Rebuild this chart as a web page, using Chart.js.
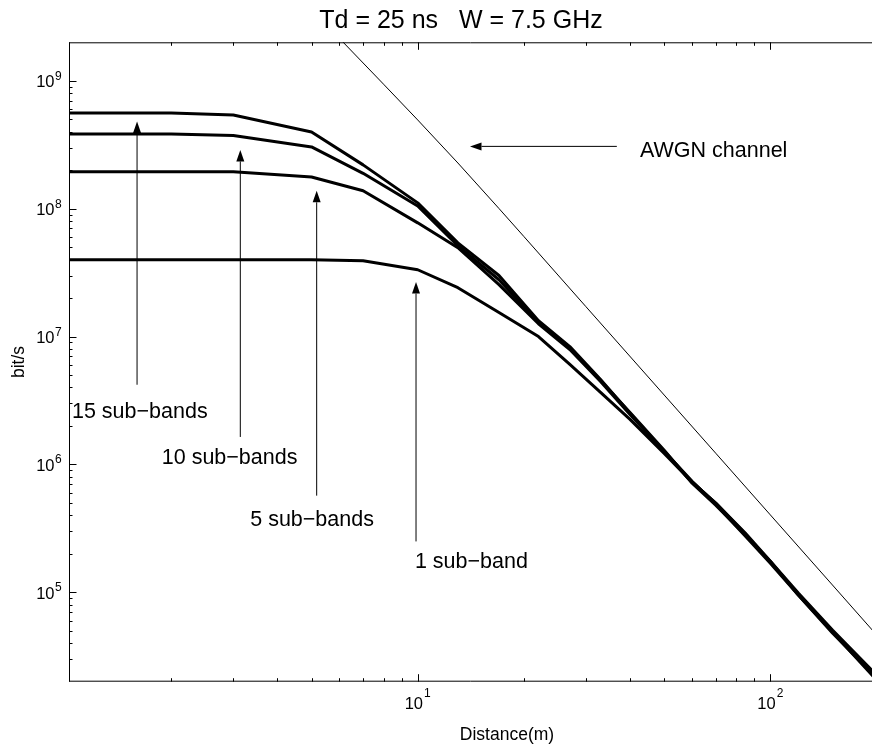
<!DOCTYPE html>
<html>
<head>
<meta charset="utf-8">
<script src="https://cdn.jsdelivr.net/npm/chart.js@4.4.1/dist/chart.umd.min.js"></script>
<style>
  html, body { margin: 0; padding: 0; background: #fff; overflow: hidden; }
  canvas { display: block; }
</style>
</head>
<body>
<canvas id="c" width="872" height="745"></canvas>
<script>
// ---- data ----
const distances = [1, 2, 3, 5, 7, 10, 13, 17, 22, 27, 33, 40, 50, 60, 70, 85, 100, 120, 150, 200];
const rate15 = [5.60e8, 5.60e8, 5.40e8, 3.98e8, 2.20e8, 1.11e8, 5.40e7, 3.00e7, 1.33e7, 8.35e6, 4.62e6, 2.51e6, 1.27e6, 7.26e5, 4.98e5, 2.85e5, 1.72e5, 9.70e4, 4.99e4, 2.18e4];
const rate10 = [3.84e8, 3.84e8, 3.74e8, 3.04e8, 1.89e8, 1.05e8, 5.13e7, 2.78e7, 1.29e7, 8.06e6, 4.54e6, 2.55e6, 1.29e6, 7.13e5, 4.80e5, 2.80e5, 1.75e5, 9.52e4, 4.81e4, 2.14e4];
const rate5  = [1.94e8, 1.94e8, 1.94e8, 1.77e8, 1.38e8, 7.75e7, 4.95e7, 2.55e7, 1.26e7, 7.92e6, 4.46e6, 2.46e6, 1.27e6, 7.39e5, 4.89e5, 2.75e5, 1.69e5, 9.52e4, 4.90e4, 2.06e4];
const rate1  = [3.99e7, 3.99e7, 3.99e7, 3.99e7, 3.92e7, 3.33e7, 2.41e7, 1.54e7, 1.00e7, 6.05e6, 3.66e6, 2.25e6, 1.22e6, 7.26e5, 4.98e5, 2.90e5, 1.75e5, 9.87e4, 5.08e4, 2.26e4];
const awgnDist = [6, 8, 10, 13, 17, 20, 30, 50, 70, 100, 150, 200];
const awgnRate = [2.145e9, 9.41e8, 4.94e8, 2.276e8, 1.003e8, 6.06e7, 1.712e7, 3.49e6, 1.224e6, 4.03e5, 1.141e5, 4.65e4];

const xMin = 1.026, xMax = 194.2;
const yMin = 2e4, yMax = 2e9;
const xTickValues = [2,3,4,5,6,7,8,9,10,20,30,40,50,60,70,80,90,100];
const xTickLabels = [{v:10, base:'10', exp:'1'}, {v:100, base:'10', exp:'2'}];
const yTickValues = [];
for (let e = 4; e <= 9; e++) for (let m = 1; m <= 9; m++) { const v = m * Math.pow(10, e); if (v > yMin && v < yMax) yTickValues.push(v); }
const yTickLabels = [5,6,7,8,9].map(e => ({v: Math.pow(10, e), base: '10', exp: String(e)}));

const titleText = 'Td = 25 ns   W = 7.5 GHz';
const xLabel = 'Distance(m)';
const yLabel = 'bit/s';

// annotation arrows (data coordinates): vertical ones {x, from, to}, horizontal {y, from, to}
const vArrows = [
  {x: 1.60, from: 4.2e6, to: 4.8e8},
  {x: 3.14, from: 1.64e6, to: 2.88e8},
  {x: 5.17, from: 5.7e5, to: 1.38e8},
  {x: 9.89, from: 2.5e5, to: 2.67e7}
];
const hArrows = [{y: 3.07e8, from: 36.7, to: 14.07}];
const notes = [
  {text: '15 sub\u2212bands', x: 1.046, y: 2.31e6},
  {text: '10 sub\u2212bands', x: 1.88, y: 1.0e6},
  {text: '5 sub\u2212bands', x: 3.35, y: 3.30e5},
  {text: '1 sub\u2212band', x: 9.82, y: 1.55e5},
  {text: 'AWGN channel', x: 42.7, y: 2.54e8}
];

const FONT = '"Liberation Sans", Arial, Helvetica, sans-serif';
const pts = (xs, ys) => xs.map((x, i) => ({x, y: ys[i]}));
const thick = (label, ys) => ({label, data: pts(distances, ys), borderColor: '#000', borderWidth: 3, pointRadius: 0, tension: 0, fill: false});

const decor = {
  id: 'decor',
  afterDraw(chart) {
    const {ctx, chartArea: a, scales: {x, y}} = chart;
    ctx.save();
    ctx.strokeStyle = '#000';
    ctx.fillStyle = '#000';
    ctx.lineWidth = 1;
    // frame (left, top, bottom)
    ctx.beginPath();
    ctx.moveTo(a.left + 0.5, a.top); ctx.lineTo(a.left + 0.5, a.bottom);
    ctx.moveTo(a.left, a.top + 0.5); ctx.lineTo(a.right, a.top + 0.5);
    ctx.moveTo(a.left, a.bottom - 0.5); ctx.lineTo(a.right, a.bottom - 0.5);
    ctx.stroke();
    const isMajor = v => Math.abs(Math.log10(v) - Math.round(Math.log10(v))) < 1e-9;
    // x ticks (inward, bottom and top)
    ctx.beginPath();
    xTickValues.forEach(v => {
      const px = Math.round(x.getPixelForValue(v)) + 0.5;
      const len = isMajor(v) ? 7.5 : 3.5;
      ctx.moveTo(px, a.bottom); ctx.lineTo(px, a.bottom - len);
      ctx.moveTo(px, a.top); ctx.lineTo(px, a.top + len);
    });
    yTickValues.forEach(v => {
      const py = Math.round(y.getPixelForValue(v)) + 0.5;
      const len = isMajor(v) ? 7.5 : 3.5;
      ctx.moveTo(a.left, py); ctx.lineTo(a.left + len, py);
    });
    ctx.stroke();
    // tick labels
    ctx.textBaseline = 'alphabetic';
    yTickLabels.forEach(t => {
      const py = y.getPixelForValue(t.v);
      ctx.font = '16.5px ' + FONT;
      ctx.textAlign = 'right';
      ctx.fillText(t.base, a.left - 14.5, py + 6.7);
      ctx.font = '12px ' + FONT;
      ctx.textAlign = 'left';
      ctx.fillText(t.exp, a.left - 14, py - 1);
    });
    xTickLabels.forEach(t => {
      const px = x.getPixelForValue(t.v);
      ctx.font = '16.5px ' + FONT;
      const wb = ctx.measureText(t.base).width;
      ctx.font = '12px ' + FONT;
      const we = ctx.measureText(t.exp).width;
      const start = px - (wb + we + 1) / 2;
      ctx.textAlign = 'left';
      ctx.font = '16.5px ' + FONT;
      ctx.fillText(t.base, start, a.bottom + 27.6);
      ctx.font = '12px ' + FONT;
      ctx.fillText(t.exp, start + wb + 1, a.bottom + 15.5);
    });
    // axis labels and title
    ctx.font = '17.5px ' + FONT;
    ctx.textAlign = 'center';
    ctx.fillText(xLabel, 507, 740);
    ctx.save();
    ctx.translate(24, (a.top + a.bottom) / 2);
    ctx.rotate(-Math.PI / 2);
    ctx.fillText(yLabel, 0, 0);
    ctx.restore();
    ctx.font = '25px ' + FONT;
    ctx.fillText(titleText, 461, 28.3);
    // arrows
    const head = 11.5, half = 4;
    vArrows.forEach(r => {
      const px = x.getPixelForValue(r.x);
      const y0 = y.getPixelForValue(r.from), y1 = y.getPixelForValue(r.to);
      ctx.beginPath(); ctx.moveTo(px, y0); ctx.lineTo(px, y1 + head); ctx.stroke();
      ctx.beginPath(); ctx.moveTo(px, y1); ctx.lineTo(px - half, y1 + head); ctx.lineTo(px + half, y1 + head); ctx.closePath(); ctx.fill();
    });
    hArrows.forEach(r => {
      const py = y.getPixelForValue(r.y);
      const x0 = x.getPixelForValue(r.from), x1 = x.getPixelForValue(r.to);
      ctx.beginPath(); ctx.moveTo(x0, py); ctx.lineTo(x1 + head, py); ctx.stroke();
      ctx.beginPath(); ctx.moveTo(x1, py); ctx.lineTo(x1 + head, py - half); ctx.lineTo(x1 + head, py + half); ctx.closePath(); ctx.fill();
    });
    // notes
    ctx.font = '21.5px ' + FONT;
    ctx.textAlign = 'left';
    notes.forEach(n => ctx.fillText(n.text, x.getPixelForValue(n.x), y.getPixelForValue(n.y)));
    ctx.restore();
  }
};

new Chart(document.getElementById('c'), {
  type: 'line',
  data: {
    datasets: [
      thick('15 sub-bands', rate15),
      thick('10 sub-bands', rate10),
      thick('5 sub-bands', rate5),
      thick('1 sub-band', rate1),
      {label: 'AWGN channel', data: pts(awgnDist, awgnRate), borderColor: '#000', borderWidth: 1, pointRadius: 0, tension: 0, fill: false}
    ]
  },
  options: {
    responsive: false,
    animation: false,
    devicePixelRatio: 1,
    layout: {padding: {left: 69, top: 42.3, right: 0, bottom: 63.3}},
    plugins: {legend: {display: false}, tooltip: {enabled: false}, title: {display: false}},
    elements: {line: {borderJoinStyle: 'round', borderCapStyle: 'butt'}},
    scales: {
      x: {type: 'logarithmic', min: xMin, max: xMax, display: false},
      y: {type: 'logarithmic', min: yMin, max: yMax, display: false}
    }
  },
  plugins: [decor]
});
</script>
</body>
</html>
